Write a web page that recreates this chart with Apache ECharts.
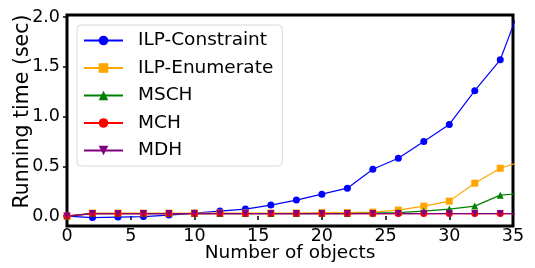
<!DOCTYPE html>
<html>
<head>
<meta charset="utf-8">
<script src="https://cdn.jsdelivr.net/npm/echarts@6/dist/echarts.min.js"></script>
<style>
  html, body { margin: 0; padding: 0; background: #fff; }
  #chart { width: 535px; height: 268px; }
</style>
</head>
<body>
<div id="chart"></div>
<script>
// number of objects (last point lies past the right edge and is clipped)
var objects = [0, 2, 4, 6, 8, 10, 12, 14, 16, 18, 20, 22, 24, 26, 28, 30, 32, 34, 36]
var ilpConstraint = [0.0, -0.015, -0.01, -0.005, 0.01, 0.03, 0.05, 0.07, 0.11, 0.16, 0.22, 0.28, 0.47, 0.58, 0.75, 0.92, 1.26, 1.57, 2.25]
var ilpEnumerate = [0.0, 0.03, 0.03, 0.03, 0.03, 0.03, 0.03, 0.03, 0.03, 0.03, 0.035, 0.035, 0.04, 0.06, 0.10, 0.15, 0.33, 0.48, 0.56]
var msch = [0.0, 0.025, 0.025, 0.025, 0.025, 0.025, 0.025, 0.025, 0.025, 0.025, 0.025, 0.025, 0.03, 0.035, 0.05, 0.07, 0.10, 0.21, 0.23]
var mch = [0.0, 0.025, 0.025, 0.025, 0.025, 0.025, 0.025, 0.025, 0.025, 0.025, 0.025, 0.025, 0.025, 0.025, 0.025, 0.025, 0.025, 0.025, 0.025]
var mdh = [0.0, 0.025, 0.025, 0.025, 0.025, 0.025, 0.025, 0.025, 0.025, 0.025, 0.025, 0.025, 0.025, 0.025, 0.025, 0.025, 0.025, 0.025, 0.025]
var xTicks = [0, 5, 10, 15, 20, 25, 30, 35]
var yTicks = [0, 0.5, 1.0, 1.5, 2.0]

var font = 'DejaVu Sans'
var tri = 'path://M0,0 L10,0 L5,-9 Z'
var triDown = 'path://M0,0 L10,0 L5,9 Z'

function pairs(ys) {
  return objects.map(function (x, i) { return [x, ys[i]] })
}

function mk(name, ys, color, symbol, size) {
  return {
    name: name,
    type: 'line',
    data: pairs(ys),
    color: color,
    symbol: symbol,
    symbolSize: size,
    showSymbol: true,
    clip: true,
    lineStyle: { width: 1.2, color: color },
    itemStyle: { color: color },
    animation: false
  }
}

var chart = echarts.init(document.getElementById('chart'))
chart.setOption({
  animation: false,
  grid: {
    left: 67, right: 22, top: 15, bottom: 42,
    outerBoundsMode: 'none',
    containLabel: false,
    show: true, borderColor: '#000', borderWidth: 3
  },
  legend: {
    orient: 'vertical',
    left: 77, top: 25,
    padding: [6, 9, 6, 6],
    itemWidth: 39, itemHeight: 12, itemGap: 8.5,
    backgroundColor: '#fff',
    borderColor: '#d8d8d8', borderWidth: 1, borderRadius: 4,
    textStyle: { fontFamily: font, fontSize: 18.5, color: '#000', padding: [0, 0, 0, 10] },
    data: ['ILP-Constraint', 'ILP-Enumerate', 'MSCH', 'MCH', 'MDH']
  },
  xAxis: {
    type: 'value', min: 0, max: 35,
    name: 'Number of objects', nameLocation: 'middle', nameGap: 18,
    nameMoveOverlap: false,
    nameTextStyle: { fontFamily: font, fontSize: 18.5, color: '#000' },
    splitLine: { show: false },
    axisLine: { show: false },
    axisTick: { show: true, length: 4, lineStyle: { color: '#000', width: 1.5 }, customValues: xTicks },
    axisLabel: { fontFamily: font, fontSize: 17.5, color: '#000', margin: 1, customValues: xTicks }
  },
  yAxis: {
    type: 'value', min: -0.1, max: 2.02,
    name: 'Running time (sec)', nameLocation: 'middle', nameGap: 34,
    nameMoveOverlap: false,
    nameTextStyle: { fontFamily: font, fontSize: 20.5, color: '#000', padding: [0, 0, 0, 18] },
    splitLine: { show: false },
    axisLine: { show: false },
    axisTick: { show: true, length: 4, lineStyle: { color: '#000', width: 1.5 }, customValues: yTicks },
    axisLabel: {
      fontFamily: font, fontSize: 17.5, color: '#000', margin: 7, customValues: yTicks,
      formatter: function (v) { return v.toFixed(1) }
    }
  },
  series: [
    mk('ILP-Constraint', ilpConstraint, '#0000ff', 'circle', 7),
    mk('ILP-Enumerate', ilpEnumerate, '#ffa500', 'rect', 7),
    mk('MSCH', msch, '#008000', tri, 7),
    mk('MCH', mch, '#ff0000', 'circle', 7),
    mk('MDH', mdh, '#800080', triDown, 7)
  ]
})
</script>
</body>
</html>
